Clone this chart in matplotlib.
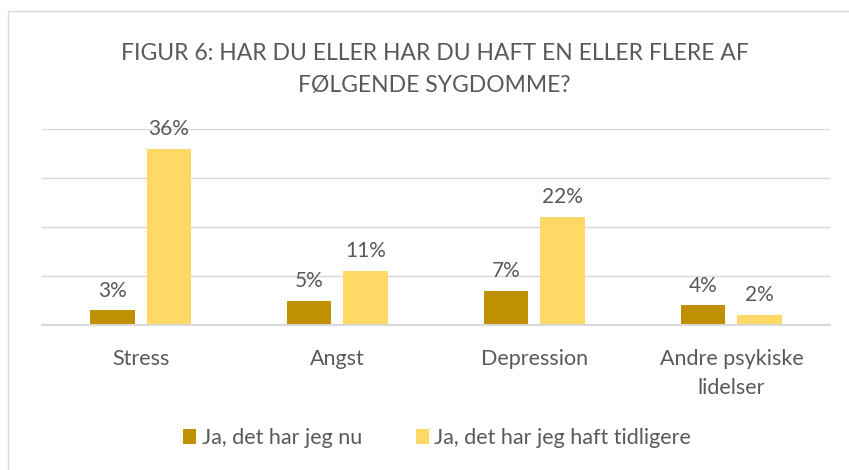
import matplotlib
matplotlib.use('Agg')
import matplotlib.pyplot as plt
import numpy as np
from matplotlib.patches import Rectangle

categories = ['Stress', 'Angst', 'Depression', 'Andre psykiske\nlidelser']
nu = [3, 5, 7, 4]
tidligere = [36, 11, 22, 2]
series_names = ['Ja, det har jeg nu', 'Ja, det har jeg haft tidligere']
colors = ['#BF9000', '#FFD966']

plt.rcParams['font.family'] = ['Lato', 'DejaVu Sans']
txt = '#595959'

fig = plt.figure(figsize=(8.49, 4.70), dpi=100)
ax = fig.add_axes([0.0495, 0.3085, 0.928, 0.417])

x = np.arange(len(categories))
w = 0.225
off = 0.143
b1 = ax.bar(x - off, nu, w, color=colors[0], label=series_names[0])
b2 = ax.bar(x + off, tidligere, w, color=colors[1], label=series_names[1])

for bars, vals in [(b1, nu), (b2, tidligere)]:
    for r, v in zip(bars, vals):
        ax.text(r.get_x() + r.get_width() / 2, v + 2.0, f'{v}%', ha='center', va='bottom',
                fontsize=15, color=txt)

ax.set_xlim(-0.5, 3.5)
ax.set_ylim(0, 40)
ax.set_yticks([0, 10, 20, 30, 40])
ax.set_yticklabels([])
ax.tick_params(axis='y', length=0)
ax.tick_params(axis='x', length=0, pad=17, labelsize=15.5, labelcolor=txt)
ax.set_xticks(x)
ax.set_xticklabels(categories, linespacing=1.6)
ax.grid(axis='y', color='#D9D9D9', linewidth=1)
ax.set_axisbelow(True)
for s in ['top', 'right', 'left']:
    ax.spines[s].set_visible(False)
ax.spines['bottom'].set_color('#D9D9D9')
ax.spines['bottom'].set_linewidth(1.5)

fig.text(0.512, 0.852, 'FIGUR 6: HAR DU ELLER HAR DU HAFT EN ELLER FLERE AF\nFØLGENDE SYGDOMME?',
         ha='center', va='center', fontsize=16.5, color=txt, linespacing=1.6)

fig.legend(loc='center', bbox_to_anchor=(0.515, 0.068), ncol=2, frameon=False,
           labelcolor=txt, handlelength=0.6, handleheight=0.7,
           handletextpad=0.25, columnspacing=2.5, prop={'size': 15.5})

fig.patches.append(Rectangle((8 / 849, -0.05), 1.2, 1 - 11 / 470 + 0.05,
                             transform=fig.transFigure, fill=False,
                             edgecolor='#D9D9D9', linewidth=1))

fig.savefig('out.png', dpi=100)
